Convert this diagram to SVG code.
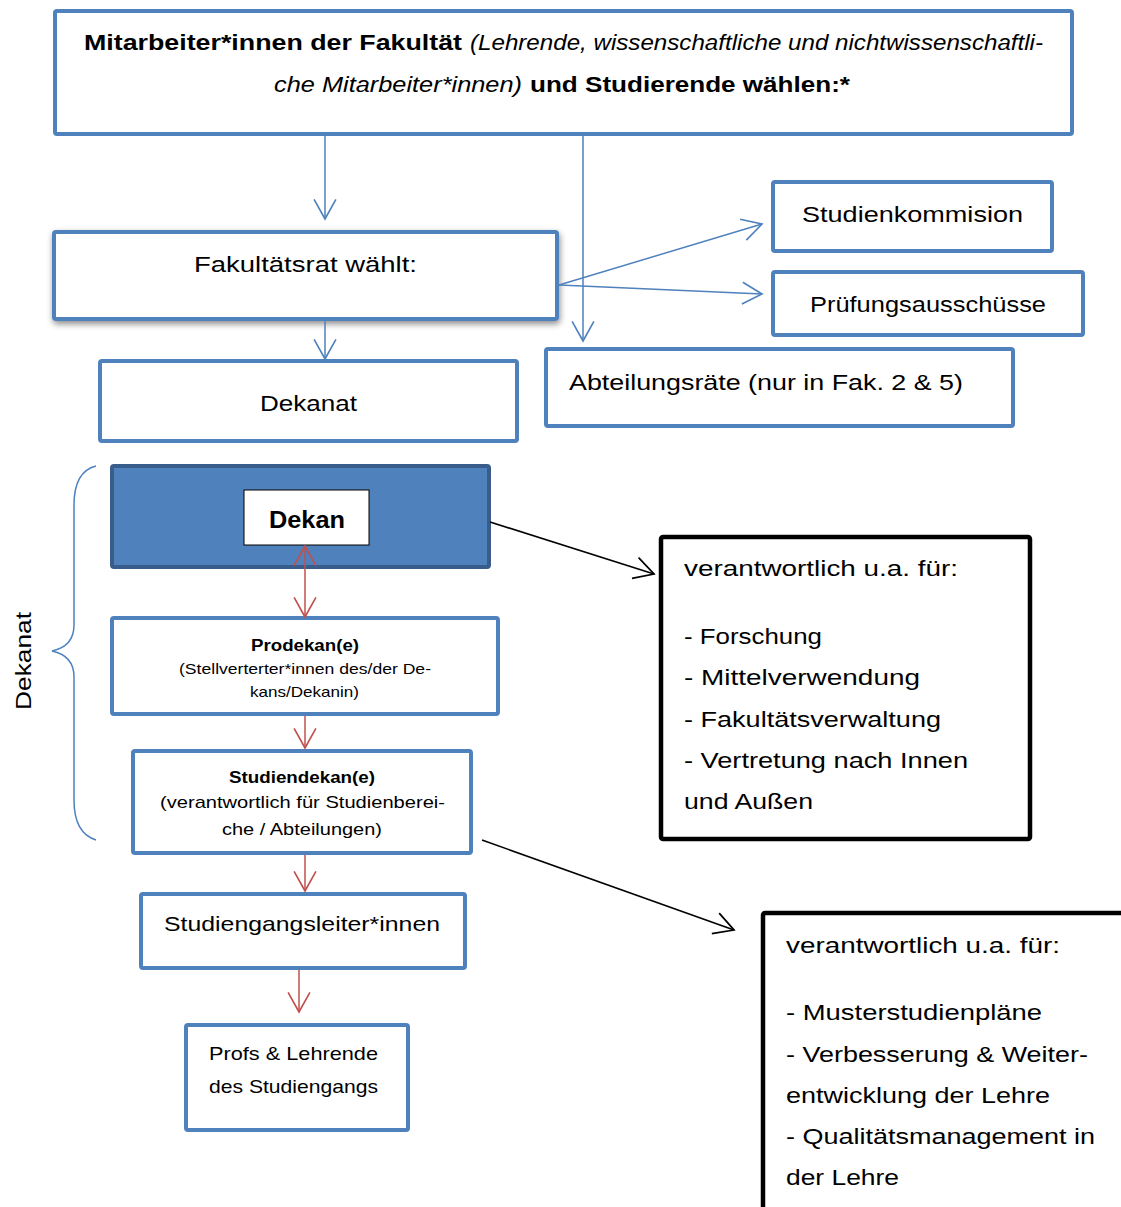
<svg xmlns="http://www.w3.org/2000/svg" width="1121" height="1207" viewBox="0 0 1121 1207">
<style>
.t{font-family:"Liberation Sans",Arial,sans-serif;fill:#000}
.box{fill:#fff;stroke:#4F81BD;stroke-width:4}
.bbox{fill:#fff;stroke:#000;stroke-width:4.5}
.cb{fill:none;stroke:#4F81BD;stroke-width:1.5}
.cr{fill:none;stroke:#C0504D;stroke-width:1.5}
.ck{fill:none;stroke:#000;stroke-width:1.6}
</style>
<defs>
<marker id="ab" markerUnits="userSpaceOnUse" markerWidth="24" markerHeight="24" viewBox="0 0 20 22" refX="19" refY="11" orient="auto"><path d="M1,1 L19,11 L1,21" fill="none" stroke="#4F81BD" stroke-width="1.5"/></marker>
<marker id="ar" markerUnits="userSpaceOnUse" markerWidth="24" markerHeight="24" viewBox="0 0 20 22" refX="19" refY="11" orient="auto-start-reverse"><path d="M1,1 L19,11 L1,21" fill="none" stroke="#C0504D" stroke-width="1.5"/></marker>
<marker id="ak" markerUnits="userSpaceOnUse" markerWidth="24" markerHeight="24" viewBox="0 0 20 22" refX="19" refY="11" orient="auto"><path d="M1,1 L19,11 L1,21" fill="none" stroke="#000" stroke-width="1.6"/></marker>
<filter id="sh" x="-10%" y="-20%" width="120%" height="150%"><feDropShadow dx="1" dy="3" stdDeviation="3" flood-color="#000" flood-opacity="0.45"/></filter>
</defs>

<g id="top">
<rect class="box" x="55" y="11" width="1017" height="123" rx="2"/>
<text class="t" x="84" y="50" font-size="22" font-weight="bold" textLength="378" lengthAdjust="spacingAndGlyphs">Mitarbeiter*innen der Fakultät</text>
<text class="t" x="470" y="50" font-size="22" font-style="italic" textLength="573" lengthAdjust="spacingAndGlyphs">(Lehrende, wissenschaftliche und nichtwissenschaftli-</text>
<text class="t" x="274" y="92" font-size="22" font-style="italic" textLength="248" lengthAdjust="spacingAndGlyphs">che Mitarbeiter*innen)</text>
<text class="t" x="530" y="92" font-size="22" font-weight="bold" textLength="320" lengthAdjust="spacingAndGlyphs">und Studierende wählen:*</text>
</g>

<g id="fakultaetsrat">
<rect class="box" x="54" y="232" width="503" height="87" rx="2" filter="url(#sh)"/>
<text class="t" x="194" y="272" font-size="22" textLength="223" lengthAdjust="spacingAndGlyphs">Fakultätsrat wählt:</text>
</g>

<g id="dekanat">
<rect class="box" x="100" y="361" width="417" height="80" rx="2"/>
<text class="t" x="260" y="411" font-size="22" textLength="97" lengthAdjust="spacingAndGlyphs">Dekanat</text>
</g>

<g id="studienkommision">
<rect class="box" x="773" y="182" width="279" height="69" rx="2"/>
<text class="t" x="802" y="222" font-size="22" textLength="221" lengthAdjust="spacingAndGlyphs">Studienkommision</text>
</g>

<g id="pruefungsausschuesse">
<rect class="box" x="773" y="272" width="310" height="63" rx="2"/>
<text class="t" x="810" y="312" font-size="22" textLength="236" lengthAdjust="spacingAndGlyphs">Prüfungsausschüsse</text>
</g>

<g id="abteilungsraete">
<rect class="box" x="546" y="349" width="467" height="77" rx="2"/>
<text class="t" x="569" y="390" font-size="22" textLength="394" lengthAdjust="spacingAndGlyphs">Abteilungsräte (nur in Fak. 2 &amp; 5)</text>
</g>

<g id="brace">
<path d="M96,466 C80,470 74,485 74,505 L74,625 C74,640 66,648 52,651 C66,654 74,662 74,677 L74,800 C74,820 80,835 96,840" fill="none" stroke="#4F81BD" stroke-width="1.5"/>
<text class="t" x="0" y="0" font-size="22" transform="translate(31,710) rotate(-90)" textLength="98" lengthAdjust="spacingAndGlyphs">Dekanat</text>
</g>

<g id="dekan">
<rect x="112" y="466" width="377" height="101" rx="2" fill="#4F81BD" stroke="#385D8A" stroke-width="4"/>
<rect x="244" y="490" width="125" height="55" fill="#fff" stroke="#000" stroke-width="1"/>
<text class="t" x="269" y="528" font-size="23" font-weight="bold" textLength="76" lengthAdjust="spacingAndGlyphs">Dekan</text>
</g>

<g id="prodekan">
<rect class="box" x="112" y="618" width="386" height="96" rx="2"/>
<text class="t" x="251" y="651" font-size="16" font-weight="bold" textLength="108" lengthAdjust="spacingAndGlyphs">Prodekan(e)</text>
<text class="t" x="179" y="674" font-size="15" textLength="252" lengthAdjust="spacingAndGlyphs">(Stellverterter*innen des/der De-</text>
<text class="t" x="250" y="697" font-size="15" textLength="109" lengthAdjust="spacingAndGlyphs">kans/Dekanin)</text>
</g>

<g id="studiendekan">
<rect class="box" x="133" y="751" width="338" height="102" rx="2"/>
<text class="t" x="229" y="783" font-size="16" font-weight="bold" textLength="146" lengthAdjust="spacingAndGlyphs">Studiendekan(e)</text>
<text class="t" x="160" y="808" font-size="17" textLength="285" lengthAdjust="spacingAndGlyphs">(verantwortlich für Studienberei-</text>
<text class="t" x="222" y="835" font-size="17" textLength="160" lengthAdjust="spacingAndGlyphs">che / Abteilungen)</text>
</g>

<g id="studiengangsleiter">
<rect class="box" x="141" y="894" width="324" height="74" rx="2"/>
<text class="t" x="164" y="931" font-size="21" textLength="276" lengthAdjust="spacingAndGlyphs">Studiengangsleiter*innen</text>
</g>

<g id="profs">
<rect class="box" x="186" y="1025" width="222" height="105" rx="2"/>
<text class="t" x="209" y="1060" font-size="19" textLength="169" lengthAdjust="spacingAndGlyphs">Profs &amp; Lehrende</text>
<text class="t" x="209" y="1093" font-size="19" textLength="169" lengthAdjust="spacingAndGlyphs">des Studiengangs</text>
</g>

<g id="dekan-aufgaben">
<rect class="bbox" x="661" y="537" width="369" height="302" rx="2"/>
<text class="t" x="684" y="576" font-size="22" textLength="274" lengthAdjust="spacingAndGlyphs">verantwortlich u.a. für:</text>
<text class="t" x="684" y="644" font-size="22" textLength="138" lengthAdjust="spacingAndGlyphs">- Forschung</text>
<text class="t" x="684" y="685" font-size="22" textLength="236" lengthAdjust="spacingAndGlyphs">- Mittelverwendung</text>
<text class="t" x="684" y="727" font-size="22" textLength="257" lengthAdjust="spacingAndGlyphs">- Fakultätsverwaltung</text>
<text class="t" x="684" y="768" font-size="22" textLength="284" lengthAdjust="spacingAndGlyphs">- Vertretung nach Innen</text>
<text class="t" x="684" y="809" font-size="22" textLength="129" lengthAdjust="spacingAndGlyphs">und Außen</text>
</g>

<g id="studiendekan-aufgaben">
<rect class="bbox" x="763" y="913" width="380" height="320" rx="2"/>
<text class="t" x="786" y="953" font-size="22" textLength="274" lengthAdjust="spacingAndGlyphs">verantwortlich u.a. für:</text>
<text class="t" x="786" y="1020" font-size="22" textLength="256" lengthAdjust="spacingAndGlyphs">- Musterstudienpläne</text>
<text class="t" x="786" y="1062" font-size="22" textLength="302" lengthAdjust="spacingAndGlyphs">- Verbesserung &amp; Weiter-</text>
<text class="t" x="786" y="1103" font-size="22" textLength="264" lengthAdjust="spacingAndGlyphs">entwicklung der Lehre</text>
<text class="t" x="786" y="1144" font-size="22" textLength="309" lengthAdjust="spacingAndGlyphs">- Qualitätsmanagement in</text>
<text class="t" x="786" y="1185" font-size="22" textLength="113" lengthAdjust="spacingAndGlyphs">der Lehre</text>
</g>

<g id="connectors">
<line class="cb" x1="325" y1="136" x2="325" y2="219" marker-end="url(#ab)"/>
<line class="cb" x1="583" y1="136" x2="583" y2="341" marker-end="url(#ab)"/>
<line class="cb" x1="325" y1="321" x2="325" y2="359" marker-end="url(#ab)"/>
<line class="cb" x1="559" y1="285" x2="762" y2="224" marker-end="url(#ab)"/>
<line class="cb" x1="559" y1="285" x2="762" y2="294" marker-end="url(#ab)"/>
<line class="cr" x1="305" y1="546" x2="305" y2="617" marker-start="url(#ar)" marker-end="url(#ar)"/>
<line class="cr" x1="305" y1="716" x2="305" y2="748" marker-end="url(#ar)"/>
<line class="cr" x1="305" y1="855" x2="305" y2="891" marker-end="url(#ar)"/>
<line class="cr" x1="299" y1="970" x2="299" y2="1012" marker-end="url(#ar)"/>
<line class="ck" x1="490" y1="522" x2="654" y2="574" marker-end="url(#ak)"/>
<line class="ck" x1="482" y1="840" x2="734" y2="930" marker-end="url(#ak)"/>
</g>
</svg>
